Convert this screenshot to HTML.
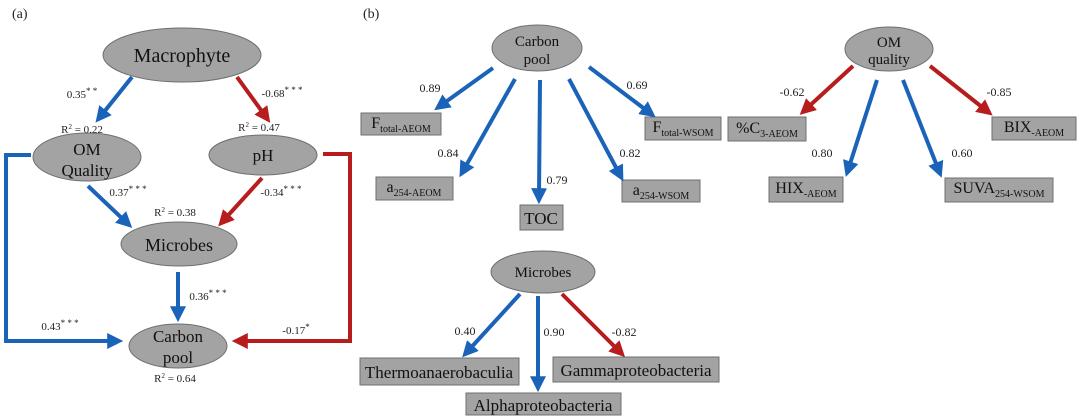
<!DOCTYPE html>
<html><head><meta charset="utf-8"><style>
html,body{margin:0;padding:0;background:#fff;}
svg{display:block;font-family:"Liberation Serif",serif;}
</style></head><body>
<svg width="1080" height="418" viewBox="0 0 1080 418" xmlns="http://www.w3.org/2000/svg">
<defs>
<marker id="hb" markerWidth="4" markerHeight="4" refX="2.2" refY="2" orient="auto" markerUnits="strokeWidth"><path d="M0,0 L4,2 L0,4 Z" fill="#1a63b8"/></marker>
<marker id="hr" markerWidth="4" markerHeight="4" refX="2.2" refY="2" orient="auto" markerUnits="strokeWidth"><path d="M0,0 L4,2 L0,4 Z" fill="#b81d1d"/></marker>
</defs>
<g fill="#a3a3a3" stroke="#6f6f6f" stroke-width="1">
<ellipse cx="182" cy="55" rx="79" ry="27"/>
<ellipse cx="87" cy="157" rx="54" ry="24"/>
<ellipse cx="263" cy="155" rx="54" ry="20"/>
<ellipse cx="179" cy="244" rx="58" ry="22"/>
<ellipse cx="178" cy="346" rx="49" ry="22"/>
<ellipse cx="537" cy="48" rx="45" ry="23"/>
<ellipse cx="543" cy="272" rx="52" ry="21"/>
<ellipse cx="889" cy="49" rx="44" ry="22"/>
<rect x="361" y="113" width="80" height="22"/>
<rect x="376" y="177" width="77" height="23"/>
<rect x="520" y="205" width="43" height="25"/>
<rect x="622" y="180" width="78" height="22"/>
<rect x="645" y="117" width="76" height="23"/>
<rect x="360" y="358" width="159" height="27"/>
<rect x="553" y="357" width="166" height="25"/>
<rect x="466" y="393" width="155" height="22"/>
<rect x="728" y="117" width="78" height="24"/>
<rect x="992" y="117" width="84" height="23"/>
<rect x="769" y="177" width="74" height="25"/>
<rect x="945" y="178" width="108" height="24"/>
</g>
<g fill="none" stroke-width="4">
<line x1="132" y1="77" x2="100" y2="117" stroke="#1a63b8" marker-end="url(#hb)"/>
<line x1="237" y1="77" x2="266" y2="117" stroke="#b81d1d" marker-end="url(#hr)"/>
<line x1="88" y1="186" x2="127" y2="223" stroke="#1a63b8" marker-end="url(#hb)"/>
<line x1="262" y1="178" x2="223" y2="221" stroke="#b81d1d" marker-end="url(#hr)"/>
<line x1="178" y1="272" x2="178" y2="315" stroke="#1a63b8" marker-end="url(#hb)"/>
<polyline points="31,155 6,155 6,341 116,341" stroke="#1a63b8" marker-end="url(#hb)"/>
<polyline points="323,154 350,154 350,341 239,341" stroke="#b81d1d" marker-end="url(#hr)"/>
<line x1="493" y1="68" x2="440" y2="106" stroke="#1a63b8" marker-end="url(#hb)"/>
<line x1="515" y1="79" x2="463" y2="171" stroke="#1a63b8" marker-end="url(#hb)"/>
<line x1="540" y1="80" x2="539" y2="197" stroke="#1a63b8" marker-end="url(#hb)"/>
<line x1="569" y1="79" x2="620" y2="175" stroke="#1a63b8" marker-end="url(#hb)"/>
<line x1="589" y1="67" x2="650" y2="113" stroke="#1a63b8" marker-end="url(#hb)"/>
<line x1="520" y1="294" x2="467" y2="352" stroke="#1a63b8" marker-end="url(#hb)"/>
<line x1="538" y1="296" x2="538" y2="385" stroke="#1a63b8" marker-end="url(#hb)"/>
<line x1="562" y1="294" x2="620" y2="352" stroke="#b81d1d" marker-end="url(#hr)"/>
<line x1="853" y1="66" x2="805" y2="110" stroke="#b81d1d" marker-end="url(#hr)"/>
<line x1="877" y1="80" x2="848" y2="170" stroke="#1a63b8" marker-end="url(#hb)"/>
<line x1="903" y1="80" x2="939" y2="171" stroke="#1a63b8" marker-end="url(#hb)"/>
<line x1="930" y1="66" x2="987" y2="111" stroke="#b81d1d" marker-end="url(#hr)"/>
</g>
<g fill="#111" text-anchor="middle">
<text x="182" y="62" font-size="20">Macrophyte</text>
<text x="87" y="155" font-size="17">OM</text>
<text x="87" y="176" font-size="17">Quality</text>
<text x="263" y="161" font-size="17">pH</text>
<text x="179" y="251" font-size="18">Microbes</text>
<text x="178" y="342" font-size="17">Carbon</text>
<text x="178" y="363" font-size="17">pool</text>
<text x="537" y="46" font-size="15">Carbon</text>
<text x="537" y="64" font-size="15">pool</text>
<text x="543" y="277" font-size="15">Microbes</text>
<text x="889" y="47" font-size="15">OM</text>
<text x="889" y="64" font-size="15">quality</text>
</g>
<g fill="#222" font-size="11" text-anchor="middle">
<text x="82" y="98">0.35<tspan dy="-4" font-size="9">* *</tspan></text>
<text x="282" y="97">-0.68<tspan dy="-4" font-size="9">* * *</tspan></text>
<text x="82" y="133">R<tspan dy="-4" font-size="7">2</tspan><tspan dy="4"> = 0.22</tspan></text>
<text x="259" y="131">R<tspan dy="-4" font-size="7">2</tspan><tspan dy="4"> = 0.47</tspan></text>
<text x="128" y="196">0.37<tspan dy="-4" font-size="9">* * *</tspan></text>
<text x="281" y="196">-0.34<tspan dy="-4" font-size="9">* * *</tspan></text>
<text x="175" y="216">R<tspan dy="-4" font-size="7">2</tspan><tspan dy="4"> = 0.38</tspan></text>
<text x="208" y="300">0.36<tspan dy="-4" font-size="9">* * *</tspan></text>
<text x="60" y="330">0.43<tspan dy="-4" font-size="9">* * *</tspan></text>
<text x="296" y="334">-0.17<tspan dy="-4" font-size="9">*</tspan></text>
<text x="175" y="382">R<tspan dy="-4" font-size="7">2</tspan><tspan dy="4"> = 0.64</tspan></text>
</g>
<g fill="#222" font-size="12" text-anchor="middle">
<text x="430" y="92">0.89</text>
<text x="448" y="157">0.84</text>
<text x="557" y="184">0.79</text>
<text x="630" y="157">0.82</text>
<text x="637" y="89">0.69</text>
<text x="465" y="335">0.40</text>
<text x="554" y="336">0.90</text>
<text x="624" y="336">-0.82</text>
<text x="792" y="96">-0.62</text>
<text x="999" y="96">-0.85</text>
<text x="822" y="157">0.80</text>
<text x="962" y="157">0.60</text>
</g>
<g fill="#111" font-size="16" text-anchor="middle">
<text x="401" y="128">F<tspan font-size="10" dy="4">total-AEOM</tspan></text>
<text x="414" y="192">a<tspan font-size="10" dy="4">254-AEOM</tspan></text>
<text x="541" y="224" font-size="17">TOC</text>
<text x="661" y="195">a<tspan font-size="10" dy="4">254-WSOM</tspan></text>
<text x="683" y="132">F<tspan font-size="10" dy="4">total-WSOM</tspan></text>
<text x="439" y="378" font-size="17">Thermoanaerobaculia</text>
<text x="636" y="376" font-size="17">Gammaproteobacteria</text>
<text x="543" y="411" font-size="17">Alphaproteobacteria</text>
<text x="767" y="133">%C<tspan font-size="10" dy="4">3-AEOM</tspan></text>
<text x="1034" y="132">BIX<tspan font-size="10" dy="4">-AEOM</tspan></text>
<text x="806" y="193">HIX<tspan font-size="10" dy="4">-AEOM</tspan></text>
<text x="999" y="193">SUVA<tspan font-size="10" dy="4">254-WSOM</tspan></text>
</g>
<text x="12" y="18" font-size="14" fill="#222">(a)</text>
<text x="363" y="18" font-size="14" fill="#222">(b)</text>
</svg>
</body></html>
